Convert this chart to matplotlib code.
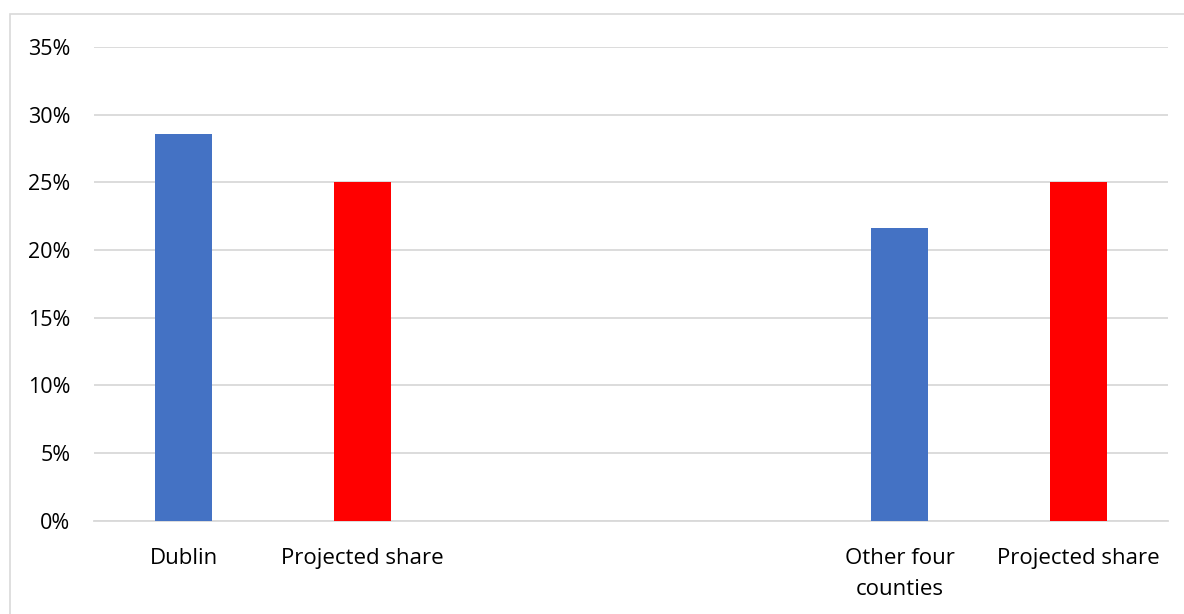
import matplotlib.pyplot as plt
from matplotlib.patches import Rectangle
from matplotlib.ticker import PercentFormatter

plt.rcParams['font.family'] = ['Open Sans', 'DejaVu Sans']

# Data
categories = ['Dublin', 'Projected share', '', '', 'Other four\ncounties', 'Projected share']
values = [0.286, 0.25, None, None, 0.216, 0.25]
colors = ['#4472c4', '#ff0000', 'none', 'none', '#4472c4', '#ff0000']
yticks = [0, 0.05, 0.10, 0.15, 0.20, 0.25, 0.30, 0.35]

fig = plt.figure(figsize=(11.84, 6.14), dpi=100)
ax = fig.add_axes([94 / 1184, 93.3 / 614, 1074 / 1184, 473.7 / 614])

# outer chart frame
fig.patches.append(Rectangle((10 / 1184, -0.05), 1.2, 0.05 + 600 / 614,
                             transform=fig.transFigure, fill=False,
                             edgecolor='#d9d9d9', linewidth=1.2))

x = list(range(len(categories)))
heights = [v if v is not None else 0 for v in values]
ax.bar(x, heights, width=0.315, color=colors, zorder=3)

ax.set_xlim(-0.5, len(categories) - 0.5)
ax.set_ylim(0, 0.35)
ax.set_yticks(yticks)
ax.yaxis.set_major_formatter(PercentFormatter(1.0, decimals=0))
ax.set_xticks(x)
ax.set_xticklabels(categories, fontsize=16, linespacing=1.65)
ax.tick_params(axis='y', length=0, pad=17, labelsize=15.5)
ax.tick_params(axis='x', length=0, pad=19.5)

ax.grid(axis='y', color='#d9d9d9', linewidth=1.3, zorder=0)
for side in ['top', 'right', 'left']:
    ax.spines[side].set_visible(False)
ax.spines['bottom'].set_color('#d9d9d9')
ax.spines['bottom'].set_linewidth(1.3)

fig.savefig('out.png', dpi=100)
